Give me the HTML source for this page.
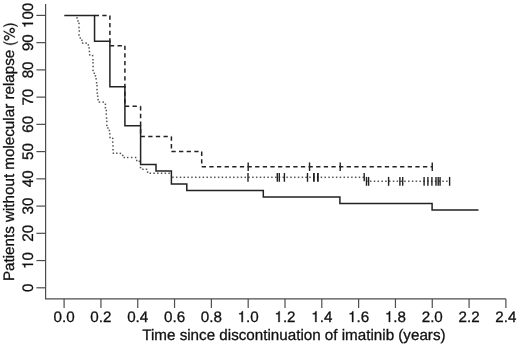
<!DOCTYPE html>
<html><head><meta charset="utf-8"><style>
html,body{margin:0;padding:0;background:#fff;}
body{width:520px;height:350px;overflow:hidden;}
svg{display:block;will-change:transform;font-family:"Liberation Sans",sans-serif;}
text{fill:#111;stroke:#111;stroke-width:0.3px;text-rendering:geometricPrecision;}
.h1{fill-opacity:0;stroke-opacity:0;}
.g1{fill:#111;stroke:#111;stroke-width:20;}
</style></head><body>
<svg width="520" height="350" viewBox="0 0 520 350">
<path d="M45.6 4 V298.9 H506" fill="none" stroke="#4d4d4d" stroke-width="1.2"/>
<line x1="36.4" y1="287.80" x2="45.6" y2="287.80" stroke="#4d4d4d" stroke-width="1.2"/>
<line x1="36.4" y1="260.56" x2="45.6" y2="260.56" stroke="#4d4d4d" stroke-width="1.2"/>
<line x1="36.4" y1="233.32" x2="45.6" y2="233.32" stroke="#4d4d4d" stroke-width="1.2"/>
<line x1="36.4" y1="206.08" x2="45.6" y2="206.08" stroke="#4d4d4d" stroke-width="1.2"/>
<line x1="36.4" y1="178.84" x2="45.6" y2="178.84" stroke="#4d4d4d" stroke-width="1.2"/>
<line x1="36.4" y1="151.60" x2="45.6" y2="151.60" stroke="#4d4d4d" stroke-width="1.2"/>
<line x1="36.4" y1="124.36" x2="45.6" y2="124.36" stroke="#4d4d4d" stroke-width="1.2"/>
<line x1="36.4" y1="97.12" x2="45.6" y2="97.12" stroke="#4d4d4d" stroke-width="1.2"/>
<line x1="36.4" y1="69.88" x2="45.6" y2="69.88" stroke="#4d4d4d" stroke-width="1.2"/>
<line x1="36.4" y1="42.64" x2="45.6" y2="42.64" stroke="#4d4d4d" stroke-width="1.2"/>
<line x1="36.4" y1="15.40" x2="45.6" y2="15.40" stroke="#4d4d4d" stroke-width="1.2"/>
<line x1="64.10" y1="298.9" x2="64.10" y2="308" stroke="#4d4d4d" stroke-width="1.2"/>
<line x1="100.92" y1="298.9" x2="100.92" y2="308" stroke="#4d4d4d" stroke-width="1.2"/>
<line x1="137.73" y1="298.9" x2="137.73" y2="308" stroke="#4d4d4d" stroke-width="1.2"/>
<line x1="174.55" y1="298.9" x2="174.55" y2="308" stroke="#4d4d4d" stroke-width="1.2"/>
<line x1="211.36" y1="298.9" x2="211.36" y2="308" stroke="#4d4d4d" stroke-width="1.2"/>
<line x1="248.18" y1="298.9" x2="248.18" y2="308" stroke="#4d4d4d" stroke-width="1.2"/>
<line x1="285.00" y1="298.9" x2="285.00" y2="308" stroke="#4d4d4d" stroke-width="1.2"/>
<line x1="321.81" y1="298.9" x2="321.81" y2="308" stroke="#4d4d4d" stroke-width="1.2"/>
<line x1="358.63" y1="298.9" x2="358.63" y2="308" stroke="#4d4d4d" stroke-width="1.2"/>
<line x1="395.44" y1="298.9" x2="395.44" y2="308" stroke="#4d4d4d" stroke-width="1.2"/>
<line x1="432.26" y1="298.9" x2="432.26" y2="308" stroke="#4d4d4d" stroke-width="1.2"/>
<line x1="469.08" y1="298.9" x2="469.08" y2="308" stroke="#4d4d4d" stroke-width="1.2"/>
<line x1="505.89" y1="298.9" x2="505.89" y2="308" stroke="#4d4d4d" stroke-width="1.2"/>
<text transform="translate(33.0 287.80) rotate(-90)" text-anchor="middle" font-size="15.2">0</text>
<text transform="translate(33.0 260.56) rotate(-90)" text-anchor="middle" font-size="15.2"><tspan class="h1">1</tspan>0</text>
<path transform="translate(33.0 260.56) rotate(-90) translate(-8.451 0) scale(0.0152 -0.0152)" d="M347 0L347 709L289 709C258 600 238 585 102 568L102 505L259 505L259 0Z" class="g1"/>
<text transform="translate(33.0 233.32) rotate(-90)" text-anchor="middle" font-size="15.2">20</text>
<text transform="translate(33.0 206.08) rotate(-90)" text-anchor="middle" font-size="15.2">30</text>
<text transform="translate(33.0 178.84) rotate(-90)" text-anchor="middle" font-size="15.2">40</text>
<text transform="translate(33.0 151.60) rotate(-90)" text-anchor="middle" font-size="15.2">50</text>
<text transform="translate(33.0 124.36) rotate(-90)" text-anchor="middle" font-size="15.2">60</text>
<text transform="translate(33.0 97.12) rotate(-90)" text-anchor="middle" font-size="15.2">70</text>
<text transform="translate(33.0 69.88) rotate(-90)" text-anchor="middle" font-size="15.2">80</text>
<text transform="translate(33.0 42.64) rotate(-90)" text-anchor="middle" font-size="15.2">90</text>
<text transform="translate(33.0 15.40) rotate(-90)" text-anchor="middle" font-size="15.2"><tspan class="h1">1</tspan>00</text>
<path transform="translate(33.0 15.40) rotate(-90) translate(-12.677 0) scale(0.0152 -0.0152)" d="M347 0L347 709L289 709C258 600 238 585 102 568L102 505L259 505L259 0Z" class="g1"/>
<text transform="translate(64.10 322.1)" text-anchor="middle" font-size="15.2">0.0</text>
<text transform="translate(100.92 322.1)" text-anchor="middle" font-size="15.2">0.2</text>
<text transform="translate(137.73 322.1)" text-anchor="middle" font-size="15.2">0.4</text>
<text transform="translate(174.55 322.1)" text-anchor="middle" font-size="15.2">0.6</text>
<text transform="translate(211.36 322.1)" text-anchor="middle" font-size="15.2">0.8</text>
<text transform="translate(248.18 322.1)" text-anchor="middle" font-size="15.2"><tspan class="h1">1</tspan>.0</text>
<path transform="translate(248.18 322) translate(-10.564 0) scale(0.0152 -0.0152)" d="M347 0L347 709L289 709C258 600 238 585 102 568L102 505L259 505L259 0Z" class="g1"/>
<text transform="translate(285.00 322.1)" text-anchor="middle" font-size="15.2"><tspan class="h1">1</tspan>.2</text>
<path transform="translate(285.00 322) translate(-10.564 0) scale(0.0152 -0.0152)" d="M347 0L347 709L289 709C258 600 238 585 102 568L102 505L259 505L259 0Z" class="g1"/>
<text transform="translate(321.81 322.1)" text-anchor="middle" font-size="15.2"><tspan class="h1">1</tspan>.4</text>
<path transform="translate(321.81 322) translate(-10.564 0) scale(0.0152 -0.0152)" d="M347 0L347 709L289 709C258 600 238 585 102 568L102 505L259 505L259 0Z" class="g1"/>
<text transform="translate(358.63 322.1)" text-anchor="middle" font-size="15.2"><tspan class="h1">1</tspan>.6</text>
<path transform="translate(358.63 322) translate(-10.564 0) scale(0.0152 -0.0152)" d="M347 0L347 709L289 709C258 600 238 585 102 568L102 505L259 505L259 0Z" class="g1"/>
<text transform="translate(395.44 322.1)" text-anchor="middle" font-size="15.2"><tspan class="h1">1</tspan>.8</text>
<path transform="translate(395.44 322) translate(-10.564 0) scale(0.0152 -0.0152)" d="M347 0L347 709L289 709C258 600 238 585 102 568L102 505L259 505L259 0Z" class="g1"/>
<text transform="translate(432.26 322.1)" text-anchor="middle" font-size="15.2">2.0</text>
<text transform="translate(469.08 322.1)" text-anchor="middle" font-size="15.2">2.2</text>
<text transform="translate(505.89 322.1)" text-anchor="middle" font-size="15.2">2.4</text>
<text transform="translate(293.9 339.8) scale(1 1.0)" text-anchor="middle" font-size="15.2">Time since discontinuation of imatinib (years)</text>
<text transform="translate(13.9 151.5) rotate(-90)" text-anchor="middle" font-size="15.2">Patients without molecular relapse <tspan class="h1">(%)</tspan></text>
<path transform="translate(13.9 151.5) rotate(-90) translate(105.538 0.6) scale(0.0152 -0.0152)" d="M291 -212C203 -69 154 99 154 259C154 418 203 587 291 729H236C136 598 73 416 73 259C73 101 136 -81 236 -212Z" class="g1"/>
<path transform="translate(13.9 151.5) rotate(-90) translate(110.600 0.6) scale(0.0152 -0.0152)" d="M370 512C370 609 295 685 199 685C106 685 29 608 29 514C29 420 106 343 200 343C293 343 370 420 370 512ZM301 513C301 458 255 413 200 413C144 413 98 459 98 514C98 570 144 615 199 615C256 615 301 570 301 513ZM675 709H609L214 -20H280ZM859 150C859 246 784 322 688 322C595 322 518 245 518 152C518 58 595 -19 689 -19C781 -19 859 58 859 150ZM790 150C790 96 744 51 689 51C633 51 587 96 587 152C587 207 633 252 688 252C745 252 790 207 790 150Z" class="g1"/>
<path transform="translate(13.9 151.5) rotate(-90) translate(124.100 0.6) scale(0.0152 -0.0152)" d="M256 258C256 416 193 598 93 729H38C126 586 175 418 175 258C175 99 126 -70 38 -212H93C193 -81 256 101 256 258Z" class="g1"/>
<path d="M64.30 15.40 L94.55 15.40 L94.55 41.34 L109.90 41.34 L109.90 86.74 L124.90 86.74 L124.90 125.66 L140.60 125.66 L140.60 164.57 L156.00 164.57 L156.00 171.06 L171.40 171.06 L171.40 184.03 L186.80 184.03 L186.80 190.52 L263.30 190.52 L263.30 197.00 L339.90 197.00 L339.90 203.49 L432.10 203.49 L432.10 209.97 L478.50 209.97" fill="none" stroke="#222" stroke-width="1.5" stroke-linejoin="miter" stroke-linecap="butt"/>
<path d="M94.70 15.40 L109.90 15.40 M109.90 15.40 L109.90 45.67 M109.90 45.67 L124.90 45.67 M124.90 45.67 L124.90 106.20 M124.90 106.20 L140.60 106.20 M140.60 106.20 L140.60 136.47 M140.60 136.47 L171.40 136.47 M171.40 136.47 L171.40 151.60 M171.40 151.60 L201.70 151.60 M201.70 151.60 L201.70 166.73 M201.70 166.73 L432.26 166.73 " fill="none" stroke="#222" stroke-width="1.5" stroke-dasharray="4.3 3.33" stroke-linecap="butt"/>
<line x1="248.18" y1="162.43" x2="248.18" y2="171.03" stroke="#222" stroke-width="1.4"/>
<line x1="309.54" y1="162.43" x2="309.54" y2="171.03" stroke="#222" stroke-width="1.4"/>
<line x1="340.22" y1="162.43" x2="340.22" y2="171.03" stroke="#222" stroke-width="1.4"/>
<line x1="432.26" y1="162.43" x2="432.26" y2="171.03" stroke="#222" stroke-width="1.4"/>
<rect x="76.25" y="17.15" width="1.5" height="1.5" fill="#555"/>
<rect x="77.25" y="20.15" width="1.5" height="1.5" fill="#555"/>
<rect x="78.25" y="22.65" width="1.5" height="1.5" fill="#555"/>
<rect x="78.25" y="26.75" width="1.5" height="1.5" fill="#555"/>
<rect x="78.55" y="30.25" width="1.5" height="1.5" fill="#555"/>
<rect x="78.25" y="34.25" width="1.5" height="1.5" fill="#555"/>
<rect x="79.55" y="37.25" width="1.5" height="1.5" fill="#555"/>
<rect x="81.15" y="39.55" width="1.5" height="1.5" fill="#555"/>
<rect x="81.95" y="42.35" width="1.5" height="1.5" fill="#555"/>
<rect x="85.35" y="42.35" width="1.5" height="1.5" fill="#555"/>
<rect x="87.55" y="44.15" width="1.5" height="1.5" fill="#555"/>
<rect x="88.35" y="47.15" width="1.5" height="1.5" fill="#555"/>
<rect x="88.65" y="50.75" width="1.5" height="1.5" fill="#555"/>
<rect x="88.95" y="54.15" width="1.5" height="1.5" fill="#555"/>
<rect x="91.85" y="54.85" width="1.5" height="1.5" fill="#555"/>
<rect x="92.25" y="58.95" width="1.5" height="1.5" fill="#555"/>
<rect x="92.25" y="62.05" width="1.5" height="1.5" fill="#555"/>
<rect x="92.35" y="65.75" width="1.5" height="1.5" fill="#555"/>
<rect x="92.25" y="69.65" width="1.5" height="1.5" fill="#555"/>
<rect x="93.55" y="72.55" width="1.5" height="1.5" fill="#555"/>
<rect x="94.65" y="75.15" width="1.5" height="1.5" fill="#555"/>
<rect x="95.35" y="78.05" width="1.5" height="1.5" fill="#555"/>
<rect x="95.85" y="82.05" width="1.5" height="1.5" fill="#555"/>
<rect x="96.25" y="84.95" width="1.5" height="1.5" fill="#555"/>
<rect x="96.25" y="88.85" width="1.5" height="1.5" fill="#555"/>
<rect x="96.55" y="92.35" width="1.5" height="1.5" fill="#555"/>
<rect x="96.95" y="95.45" width="1.5" height="1.5" fill="#555"/>
<rect x="97.35" y="98.85" width="1.5" height="1.5" fill="#555"/>
<rect x="98.65" y="101.35" width="1.5" height="1.5" fill="#555"/>
<rect x="102.45" y="101.35" width="1.5" height="1.5" fill="#555"/>
<rect x="104.65" y="103.55" width="1.5" height="1.5" fill="#555"/>
<rect x="104.65" y="106.95" width="1.5" height="1.5" fill="#555"/>
<rect x="105.55" y="109.75" width="1.5" height="1.5" fill="#555"/>
<rect x="105.55" y="113.35" width="1.5" height="1.5" fill="#555"/>
<rect x="105.85" y="117.35" width="1.5" height="1.5" fill="#555"/>
<rect x="106.05" y="120.65" width="1.5" height="1.5" fill="#555"/>
<rect x="106.05" y="124.65" width="1.5" height="1.5" fill="#555"/>
<rect x="107.15" y="127.25" width="1.5" height="1.5" fill="#555"/>
<rect x="108.65" y="129.75" width="1.5" height="1.5" fill="#555"/>
<rect x="109.05" y="133.05" width="1.5" height="1.5" fill="#555"/>
<rect x="109.25" y="136.75" width="1.5" height="1.5" fill="#555"/>
<rect x="111.95" y="137.65" width="1.5" height="1.5" fill="#555"/>
<rect x="111.95" y="141.35" width="1.5" height="1.5" fill="#555"/>
<rect x="112.25" y="145.15" width="1.5" height="1.5" fill="#555"/>
<rect x="112.25" y="148.95" width="1.5" height="1.5" fill="#555"/>
<rect x="112.65" y="152.45" width="1.5" height="1.5" fill="#555"/>
<rect x="116.05" y="152.45" width="1.5" height="1.5" fill="#555"/>
<rect x="119.65" y="152.65" width="1.5" height="1.5" fill="#555"/>
<rect x="121.95" y="154.65" width="1.5" height="1.5" fill="#555"/>
<rect x="123.55" y="156.75" width="1.5" height="1.5" fill="#555"/>
<rect x="126.95" y="156.75" width="1.5" height="1.5" fill="#555"/>
<rect x="130.95" y="156.75" width="1.5" height="1.5" fill="#555"/>
<rect x="134.85" y="156.75" width="1.5" height="1.5" fill="#555"/>
<rect x="135.95" y="159.75" width="1.5" height="1.5" fill="#555"/>
<rect x="138.65" y="160.55" width="1.5" height="1.5" fill="#555"/>
<rect x="139.75" y="166.85" width="1.5" height="1.5" fill="#555"/>
<rect x="142.15" y="168.55" width="1.5" height="1.5" fill="#555"/>
<rect x="145.75" y="168.55" width="1.5" height="1.5" fill="#555"/>
<rect x="146.85" y="171.35" width="1.5" height="1.5" fill="#555"/>
<rect x="149.55" y="172.50" width="1.5" height="1.5" fill="#555"/>
<rect x="153.31" y="172.50" width="1.5" height="1.5" fill="#555"/>
<rect x="157.07" y="172.50" width="1.5" height="1.5" fill="#555"/>
<rect x="160.83" y="172.50" width="1.5" height="1.5" fill="#555"/>
<rect x="164.59" y="172.50" width="1.5" height="1.5" fill="#555"/>
<rect x="168.35" y="172.50" width="1.5" height="1.5" fill="#555"/>
<rect x="172.15" y="176.55" width="1.5" height="1.5" fill="#555"/>
<rect x="175.96" y="176.55" width="1.5" height="1.5" fill="#555"/>
<rect x="179.77" y="176.55" width="1.5" height="1.5" fill="#555"/>
<rect x="183.57" y="176.55" width="1.5" height="1.5" fill="#555"/>
<rect x="187.38" y="176.55" width="1.5" height="1.5" fill="#555"/>
<rect x="191.19" y="176.55" width="1.5" height="1.5" fill="#555"/>
<rect x="195.00" y="176.55" width="1.5" height="1.5" fill="#555"/>
<rect x="198.81" y="176.55" width="1.5" height="1.5" fill="#555"/>
<rect x="202.61" y="176.55" width="1.5" height="1.5" fill="#555"/>
<rect x="206.42" y="176.55" width="1.5" height="1.5" fill="#555"/>
<rect x="210.23" y="176.55" width="1.5" height="1.5" fill="#555"/>
<rect x="214.04" y="176.55" width="1.5" height="1.5" fill="#555"/>
<rect x="217.85" y="176.55" width="1.5" height="1.5" fill="#555"/>
<rect x="221.65" y="176.55" width="1.5" height="1.5" fill="#555"/>
<rect x="225.46" y="176.55" width="1.5" height="1.5" fill="#555"/>
<rect x="229.27" y="176.55" width="1.5" height="1.5" fill="#555"/>
<rect x="233.08" y="176.55" width="1.5" height="1.5" fill="#555"/>
<rect x="236.89" y="176.55" width="1.5" height="1.5" fill="#555"/>
<rect x="240.69" y="176.55" width="1.5" height="1.5" fill="#555"/>
<rect x="244.50" y="176.55" width="1.5" height="1.5" fill="#555"/>
<rect x="248.31" y="176.55" width="1.5" height="1.5" fill="#555"/>
<rect x="252.12" y="176.55" width="1.5" height="1.5" fill="#555"/>
<rect x="255.93" y="176.55" width="1.5" height="1.5" fill="#555"/>
<rect x="259.73" y="176.55" width="1.5" height="1.5" fill="#555"/>
<rect x="263.54" y="176.55" width="1.5" height="1.5" fill="#555"/>
<rect x="267.35" y="176.55" width="1.5" height="1.5" fill="#555"/>
<rect x="271.16" y="176.55" width="1.5" height="1.5" fill="#555"/>
<rect x="274.97" y="176.55" width="1.5" height="1.5" fill="#555"/>
<rect x="278.77" y="176.55" width="1.5" height="1.5" fill="#555"/>
<rect x="282.58" y="176.55" width="1.5" height="1.5" fill="#555"/>
<rect x="286.39" y="176.55" width="1.5" height="1.5" fill="#555"/>
<rect x="290.20" y="176.55" width="1.5" height="1.5" fill="#555"/>
<rect x="294.01" y="176.55" width="1.5" height="1.5" fill="#555"/>
<rect x="297.81" y="176.55" width="1.5" height="1.5" fill="#555"/>
<rect x="301.62" y="176.55" width="1.5" height="1.5" fill="#555"/>
<rect x="305.43" y="176.55" width="1.5" height="1.5" fill="#555"/>
<rect x="309.24" y="176.55" width="1.5" height="1.5" fill="#555"/>
<rect x="313.05" y="176.55" width="1.5" height="1.5" fill="#555"/>
<rect x="316.85" y="176.55" width="1.5" height="1.5" fill="#555"/>
<rect x="320.66" y="176.55" width="1.5" height="1.5" fill="#555"/>
<rect x="324.47" y="176.55" width="1.5" height="1.5" fill="#555"/>
<rect x="328.28" y="176.55" width="1.5" height="1.5" fill="#555"/>
<rect x="332.09" y="176.55" width="1.5" height="1.5" fill="#555"/>
<rect x="335.89" y="176.55" width="1.5" height="1.5" fill="#555"/>
<rect x="339.70" y="176.55" width="1.5" height="1.5" fill="#555"/>
<rect x="343.51" y="176.55" width="1.5" height="1.5" fill="#555"/>
<rect x="347.32" y="176.55" width="1.5" height="1.5" fill="#555"/>
<rect x="351.13" y="176.55" width="1.5" height="1.5" fill="#555"/>
<rect x="354.93" y="176.55" width="1.5" height="1.5" fill="#555"/>
<rect x="358.74" y="176.55" width="1.5" height="1.5" fill="#555"/>
<rect x="362.55" y="176.55" width="1.5" height="1.5" fill="#555"/>
<rect x="366.14" y="180.50" width="1.5" height="1.5" fill="#555"/>
<rect x="369.95" y="180.50" width="1.5" height="1.5" fill="#555"/>
<rect x="373.76" y="180.50" width="1.5" height="1.5" fill="#555"/>
<rect x="377.57" y="180.50" width="1.5" height="1.5" fill="#555"/>
<rect x="381.37" y="180.50" width="1.5" height="1.5" fill="#555"/>
<rect x="385.18" y="180.50" width="1.5" height="1.5" fill="#555"/>
<rect x="388.99" y="180.50" width="1.5" height="1.5" fill="#555"/>
<rect x="392.80" y="180.50" width="1.5" height="1.5" fill="#555"/>
<rect x="396.61" y="180.50" width="1.5" height="1.5" fill="#555"/>
<rect x="400.41" y="180.50" width="1.5" height="1.5" fill="#555"/>
<rect x="404.22" y="180.50" width="1.5" height="1.5" fill="#555"/>
<rect x="408.03" y="180.50" width="1.5" height="1.5" fill="#555"/>
<rect x="411.84" y="180.50" width="1.5" height="1.5" fill="#555"/>
<rect x="415.65" y="180.50" width="1.5" height="1.5" fill="#555"/>
<rect x="419.45" y="180.50" width="1.5" height="1.5" fill="#555"/>
<rect x="423.26" y="180.50" width="1.5" height="1.5" fill="#555"/>
<rect x="427.07" y="180.50" width="1.5" height="1.5" fill="#555"/>
<rect x="430.88" y="180.50" width="1.5" height="1.5" fill="#555"/>
<rect x="434.69" y="180.50" width="1.5" height="1.5" fill="#555"/>
<rect x="438.49" y="180.50" width="1.5" height="1.5" fill="#555"/>
<rect x="442.30" y="180.50" width="1.5" height="1.5" fill="#555"/>
<rect x="446.11" y="180.50" width="1.5" height="1.5" fill="#555"/>
<line x1="248.0" y1="173" x2="248.0" y2="181.8" stroke="#222" stroke-width="1.4"/>
<line x1="277.3" y1="173" x2="277.3" y2="181.8" stroke="#222" stroke-width="1.4"/>
<line x1="279.3" y1="173" x2="279.3" y2="181.8" stroke="#222" stroke-width="1.4"/>
<line x1="284.4" y1="173" x2="284.4" y2="181.8" stroke="#222" stroke-width="1.4"/>
<line x1="307.5" y1="173" x2="307.5" y2="181.8" stroke="#222" stroke-width="1.4"/>
<line x1="313.9" y1="173" x2="313.9" y2="181.8" stroke="#222" stroke-width="1.8"/>
<line x1="317.9" y1="173" x2="317.9" y2="181.8" stroke="#222" stroke-width="1.8"/>
<line x1="364.2" y1="173.1" x2="364.2" y2="181.3" stroke="#222" stroke-width="1.4"/>
<line x1="366.5" y1="176.9" x2="366.5" y2="185.8" stroke="#222" stroke-width="1.4"/>
<line x1="368.6" y1="176.9" x2="368.6" y2="185.8" stroke="#222" stroke-width="1.4"/>
<line x1="388.6" y1="176.9" x2="388.6" y2="185.8" stroke="#222" stroke-width="1.4"/>
<line x1="399.9" y1="176.9" x2="399.9" y2="185.8" stroke="#222" stroke-width="1.4"/>
<line x1="402.7" y1="176.9" x2="402.7" y2="185.8" stroke="#222" stroke-width="1.4"/>
<line x1="424.1" y1="176.9" x2="424.1" y2="185.8" stroke="#222" stroke-width="1.4"/>
<line x1="427.9" y1="176.9" x2="427.9" y2="185.8" stroke="#222" stroke-width="1.4"/>
<line x1="431.9" y1="176.9" x2="431.9" y2="185.8" stroke="#222" stroke-width="1.4"/>
<line x1="436.0" y1="176.9" x2="436.0" y2="185.8" stroke="#222" stroke-width="1.4"/>
<line x1="438.2" y1="176.9" x2="438.2" y2="185.8" stroke="#222" stroke-width="1.4"/>
<line x1="440.1" y1="176.9" x2="440.1" y2="185.8" stroke="#222" stroke-width="1.4"/>
<line x1="449.6" y1="176.9" x2="449.6" y2="185.8" stroke="#222" stroke-width="1.4"/>
</svg>
</body></html>
